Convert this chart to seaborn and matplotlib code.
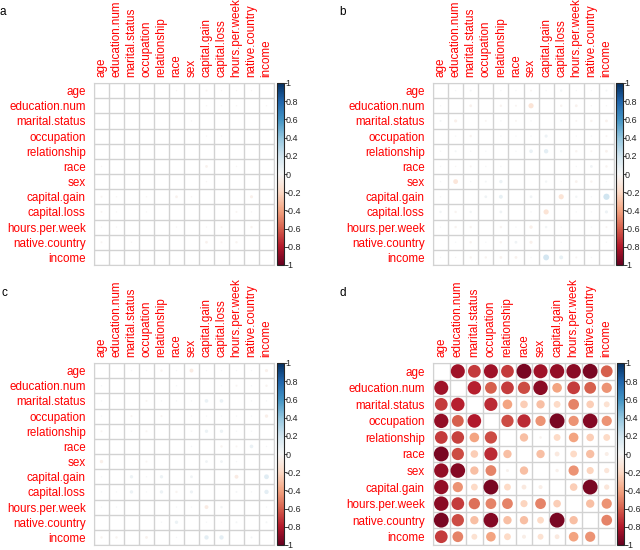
import numpy as np
import pandas as pd
import matplotlib
matplotlib.use("Agg")
import matplotlib.pyplot as plt
import seaborn as sns

# variable names
vars12 = ["age", "education.num", "marital.status", "occupation", "relationship",
          "race", "sex", "capital.gain", "capital.loss", "hours.per.week",
          "native.country", "income"]
vars11 = ["age", "education.num", "marital.status", "occupation", "relationship",
          "race", "sex", "capital.gain", "hours.per.week", "native.country", "income"]

# panel a (almost no correlation)
corr_a = [
    [0, 0, 0, 0, 0, -0.01, 0, -0.02, -0.01, -0.01, -0.01, 0],
    [0, 0, 0, 0, 0, 0, 0, -0.01, -0.01, -0.01, 0, -0.01],
    [0, 0, 0, 0, 0, 0, -0.01, 0, 0, 0, 0, 0],
    [0, 0, 0, 0, 0, 0, 0, -0.01, -0.01, 0, 0, 0],
    [0, 0, 0, 0, 0, 0, 0, 0, 0, 0, 0, 0],
    [-0.01, 0, 0, 0, 0, 0, 0, -0.04, 0, -0.01, 0, 0],
    [0, 0, 0, 0, 0, 0, 0, -0.01, 0, 0, 0, 0],
    [-0.02, -0.01, 0, -0.01, 0, -0.04, -0.01, 0, 0, 0, -0.05, 0],
    [-0.02, -0.01, 0, -0.01, 0, 0, 0, 0, 0, -0.02, -0.01, 0],
    [-0.01, -0.01, 0, 0, 0, -0.01, 0, -0.01, -0.02, 0, -0.03, 0],
    [-0.02, 0, -0.01, 0, 0, 0, 0, -0.04, -0.02, -0.03, 0, 0],
    [0, 0, 0, 0, 0, 0, 0, 0, 0, 0, 0, 0],
]

# panel b
corr_b = [
    [0, 0.01, 0.02, 0, 0.01, 0.01, -0.02, 0.01, 0.03, 0.01, 0.01, 0.02],
    [0.01, 0, -0.04, 0, -0.03, -0.02, -0.14, 0, -0.03, -0.04, -0.01, -0.01],
    [0.02, -0.05, 0, -0.02, 0.01, -0.02, 0.01, 0, 0.02, -0.02, -0.03, -0.04],
    [0, 0.01, -0.03, 0, 0.01, 0.01, 0.01, 0.05, 0, 0.01, 0.01, -0.02],
    [0.01, 0.02, 0.01, 0.01, 0, 0.01, 0.07, 0.1, 0.03, -0.03, -0.02, -0.04],
    [0.01, -0.01, -0.02, 0.01, 0.01, 0, 0, 0, 0, 0.01, 0.04, -0.03],
    [0.01, -0.12, 0.01, 0.02, 0.06, 0, 0, 0.03, 0.01, -0.04, -0.03, 0.01],
    [0.01, 0, 0, 0.04, 0.08, 0, 0.04, 0, -0.14, 0.03, 0.01, 0.2],
    [0.03, -0.03, 0.03, 0, 0.04, 0, 0.01, -0.14, 0, 0.01, 0.01, 0.05],
    [0.01, -0.03, -0.03, 0, -0.03, 0.01, -0.06, 0.03, 0.01, 0, 0.01, -0.02],
    [0, 0.01, -0.03, 0.01, -0.03, 0.04, -0.05, 0, 0.01, 0, 0, 0.01],
    [0.01, -0.01, -0.03, -0.03, -0.04, -0.04, 0.01, 0.18, 0.08, -0.02, 0.01, 0],
]

# panel c
corr_c = [
    [0, 0, 0.01, 0.01, -0.03, 0.01, -0.08, 0.01, 0.01, 0.01, 0.01, -0.05],
    [0.01, 0, 0, 0, 0, 0.01, 0, 0, 0.01, -0.02, 0.01, -0.03],
    [0.01, 0, 0, -0.02, 0.01, 0.01, 0.01, 0.07, 0.07, 0, 0.01, 0.01],
    [0.01, 0, -0.02, 0, -0.02, 0, -0.01, 0.01, 0.01, 0.01, 0.01, -0.06],
    [-0.02, 0, 0.01, -0.02, 0, 0, 0.01, 0.06, 0.06, 0.01, 0.01, 0],
    [0, 0, 0, 0, 0, 0, 0.01, 0, -0.03, -0.02, 0.07, 0.01],
    [-0.06, 0, 0, -0.02, 0, 0, 0, 0.04, 0.04, 0.01, 0, 0],
    [0.01, 0, 0.06, 0.01, 0.06, 0, 0.04, 0, 0, -0.08, 0, 0.12],
    [0.01, 0.01, 0.06, 0.01, 0.06, -0.03, 0.05, 0, 0, 0.02, 0.01, 0.1],
    [0.01, 0.01, 0, 0, 0, 0.01, 0.01, -0.08, 0.03, 0, 0, 0.01],
    [0, 0, 0, 0, 0.01, 0.06, 0, 0.01, 0.01, 0.02, 0, 0.02],
    [-0.03, -0.03, 0, -0.04, 0, 0.01, 0, 0.1, 0.1, 0, 0.02, 0],
]

# panel d (11 variables)
corr_d = [
    [0, -0.85, -0.7, -0.85, -0.7, -0.95, -0.85, -0.88, -0.9, -0.95, -0.6],
    [-0.85, 0, -0.78, -0.6, -0.7, -0.65, -0.9, -0.4, -0.7, -0.6, -0.45],
    [-0.7, -0.78, 0, -0.75, -0.4, -0.25, -0.3, -0.2, -0.5, -0.25, -0.15],
    [-0.88, -0.6, -0.8, 0, -0.65, -0.75, -0.45, -0.95, -0.45, -0.92, -0.45],
    [-0.7, -0.68, -0.4, -0.65, 0, -0.3, -0.03, -0.2, -0.4, -0.25, -0.2],
    [-0.95, -0.65, -0.25, -0.75, -0.3, 0, -0.3, -0.1, -0.2, -0.3, -0.07],
    [-0.88, -0.92, -0.3, -0.5, -0.04, -0.3, 0, -0.05, -0.45, -0.22, -0.12],
    [-0.88, -0.45, -0.2, -0.95, -0.2, -0.1, -0.07, 0, -0.25, -0.95, -0.12],
    [-0.9, -0.7, -0.55, -0.5, -0.5, -0.22, -0.5, -0.25, 0, -0.3, -0.45],
    [-0.95, -0.65, -0.3, -0.92, -0.3, -0.3, -0.2, -0.95, -0.3, 0, -0.5],
    [-0.7, -0.5, -0.15, -0.4, -0.2, -0.07, -0.15, -0.1, -0.4, -0.45, 0],
]

cbar_ticks = [-1, -0.8, -0.6, -0.4, -0.2, 0, 0.2, 0.4, 0.6, 0.8, 1]

sns.set_style("white")
plt.rcParams["font.family"] = ["Liberation Sans", "DejaVu Sans"]
plt.rcParams["axes.unicode_minus"] = False

W, H = 640, 550
fig = plt.figure(figsize=(W / 100, H / 100), dpi=100)


def px_rect(x, y, w, h):
    return [x / W, 1 - (y + h) / H, w / W, h / H]


def draw_panel(mat, labels, grid_px, cbar_px, letter, letter_px):
    n = len(labels)
    ax = fig.add_axes(px_rect(*grid_px))
    m = np.array(mat, dtype=float)
    np.fill_diagonal(m, 0)
    df = pd.DataFrame(m, index=labels, columns=labels)
    long = df.stack().reset_index()
    long.columns = ["row", "col", "r"]
    long["xi"] = pd.Categorical(long["col"], categories=labels).codes
    long["yi"] = pd.Categorical(long["row"], categories=labels).codes
    long["absr"] = long["r"].abs()

    # circle area proportional to |r|, like corrplot
    cell_pt = min(grid_px[2], grid_px[3]) / n * 72 / 100
    smax = (0.92 * cell_pt) ** 2
    sns.scatterplot(data=long, x="xi", y="yi", hue="r", size="absr",
                    palette="RdBu", hue_norm=(-1, 1),
                    sizes=(0, smax), size_norm=(0, 1),
                    linewidth=0, legend=False, ax=ax, zorder=3)

    ax.set_xlim(-0.5, n - 0.5)
    ax.set_ylim(n - 0.5, -0.5)
    ax.set_xticks(range(n))
    ax.set_yticks(range(n))
    ax.set_xticks(np.arange(-0.5, n), minor=True)
    ax.set_yticks(np.arange(-0.5, n), minor=True)
    ax.grid(which="minor", color="#D2D2D2", lw=1)
    ax.grid(which="major", visible=False)
    ax.xaxis.tick_top()
    ax.set_xticklabels(labels, rotation=90, color="red", fontsize=8.4)
    ax.set_yticklabels(labels, color="red", fontsize=8.4)
    ax.tick_params(which="both", length=0)
    ax.tick_params(axis="x", pad=4)
    ax.tick_params(axis="y", pad=6)
    ax.set_xlabel("")
    ax.set_ylabel("")
    for s in ax.spines.values():
        s.set_color("#D2D2D2")

    cax = fig.add_axes(px_rect(*cbar_px))
    sm = plt.cm.ScalarMappable(cmap="RdBu", norm=plt.Normalize(-1, 1))
    cb = fig.colorbar(sm, cax=cax, ticks=cbar_ticks)
    cb.ax.set_yticklabels(["{:g}".format(t) for t in cbar_ticks])
    cb.ax.tick_params(length=2, width=0.6, labelsize=6.5, pad=-1)
    cb.outline.set_linewidth(0.8)

    fig.text(letter_px[0] / W, 1 - letter_px[1] / H, letter, fontsize=8.5,
             ha="left", va="center", color="black")


draw_panel(corr_a, vars12, (94, 83, 180, 182), (277, 83, 7, 182), "a", (-1, 12))
draw_panel(corr_b, vars12, (433, 83, 181, 182), (616, 83, 7, 182), "b", (339, 12))
draw_panel(corr_c, vars12, (94, 363, 180, 182), (277, 363, 7, 182), "c", (1, 293))
draw_panel(corr_d, vars11, (433, 363, 182, 182), (617, 363, 7, 182), "d", (339, 293))

fig.savefig("out.png", dpi=100)
